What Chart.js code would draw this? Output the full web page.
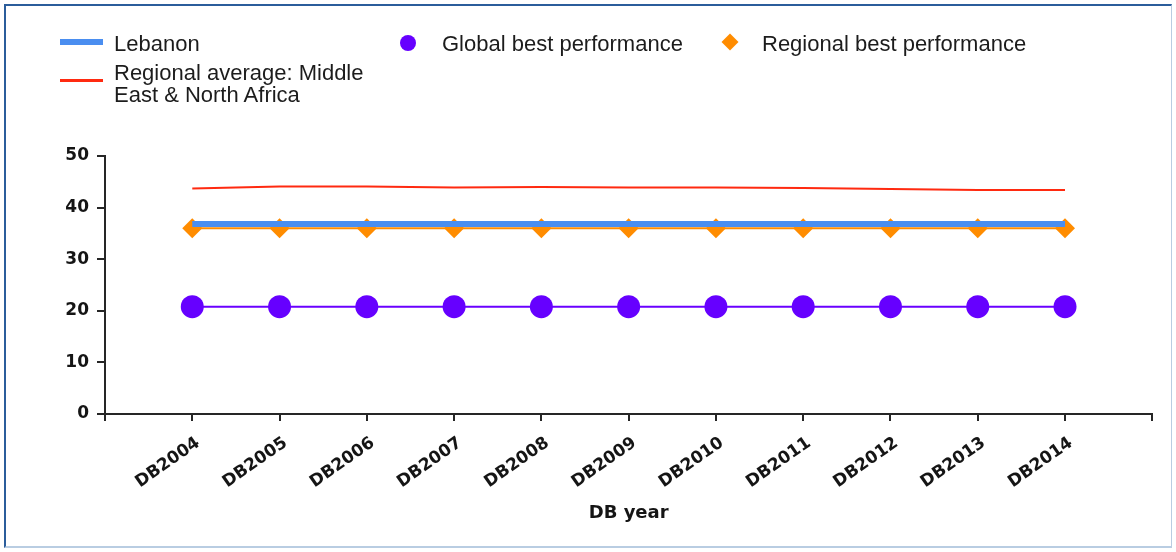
<!DOCTYPE html>
<html>
<head>
<meta charset="utf-8">
<script src="https://cdn.jsdelivr.net/npm/chart.js"></script>
<style>
  body { margin: 0; background: #fff; }
  #wrap { position: relative; width: 1176px; height: 552px; }
  #frame {
    position: absolute; left: 4px; top: 4px; width: 1168px; height: 544px;
    border-left: 2px solid #2b5d9b; border-top: 2px solid #2b5d9b;
    border-right: 1px solid #b9cde2; border-bottom: 2px solid #b9cde2;
    box-sizing: border-box; pointer-events: none;
  }
  .lg-text {
    position: absolute; font-family: "Liberation Sans", Arial, sans-serif;
    font-size: 22px; line-height: 22px; color: #1c1c1c; white-space: nowrap;
  }
  .lg-mark { position: absolute; }
</style>
</head>
<body>
<div id="wrap">
  <canvas id="chart" width="1176" height="552"></canvas>
  <div id="legend"></div>
  <div id="frame"></div>
</div>
<script>
const categories = ["DB2004", "DB2005", "DB2006", "DB2007", "DB2008", "DB2009",
  "DB2010", "DB2011", "DB2012", "DB2013", "DB2014"];
const lebanon = [36.8, 36.8, 36.8, 36.8, 36.8, 36.8, 36.8, 36.8, 36.8, 36.8, 36.8];
const regionalAverage = [43.7, 44.1, 44.1, 43.9, 44.0, 43.9, 43.9, 43.8, 43.6, 43.4, 43.4];
const globalBest = [20.8, 20.8, 20.8, 20.8, 20.8, 20.8, 20.8, 20.8, 20.8, 20.8, 20.8];
const regionalBest = [36, 36, 36, 36, 36, 36, 36, 36, 36, 36, 36];
const yTicks = [0, 10, 20, 30, 40, 50];

// categories sit on 1..11 of a linear axis running 0..12 (empty slot each end)
const toPoints = (vals) => vals.map((v, i) => ({ x: i + 1, y: v }));

const axisColor = "#262626";
const tickFont = { family: "DejaVu Sans", size: 17, weight: "bold" };

new Chart(document.getElementById("chart"), {
  type: "line",
  data: {
    datasets: [
      {
        label: "Regional average: Middle East & North Africa",
        data: toPoints(regionalAverage),
        borderColor: "#ff2a10",
        borderWidth: 2,
        pointRadius: 0,
      },
      {
        label: "Lebanon",
        data: toPoints(lebanon),
        borderColor: "#4a8ef0",
        borderWidth: 6,
        pointRadius: 0,
      },
      {
        label: "Regional best performance",
        data: toPoints(regionalBest),
        borderColor: "#ff8c00",
        borderWidth: 2,
        pointStyle: "rectRot",
        pointRadius: 10,
        pointBackgroundColor: "#ff8c00",
        pointBorderWidth: 0,
      },
      {
        label: "Global best performance",
        data: toPoints(globalBest),
        borderColor: "#6a00ff",
        borderWidth: 2,
        pointStyle: "circle",
        pointRadius: 11.5,
        pointBackgroundColor: "#6600ff",
        pointBorderWidth: 0,
      },
    ],
  },
  options: {
    responsive: false,
    animation: false,
    layout: { padding: { left: 0, top: 156, right: 23, bottom: 0 } },
    plugins: {
      legend: { display: false },
      tooltip: { enabled: false },
    },
    scales: {
      x: {
        type: "linear",
        min: 0,
        max: 12,
        afterFit: (scale) => { scale.height = 138; },
        afterBuildTicks: (scale) => {
          scale.ticks = [];
          for (let i = 0; i <= categories.length + 1; i++) scale.ticks.push({ value: i });
        },
        ticks: {
          autoSkip: false,
          maxRotation: 35,
          minRotation: 35,
          padding: 12,
          labelOffset: 6,
          color: "#151515",
          font: tickFont,
          callback: (v) => categories[v - 1] || "",
        },
        grid: { drawOnChartArea: false, color: axisColor, lineWidth: 2, tickLength: 7 },
        border: { color: axisColor, width: 2 },
        title: {
          display: true,
          text: "DB year",
          color: "#151515",
          font: { family: "DejaVu Sans", size: 18, weight: "bold" },
          padding: { top: 0, bottom: 28 },
        },
      },
      y: {
        min: 0,
        max: 50,
        afterFit: (scale) => { scale.width = 105; },
        afterBuildTicks: (scale) => { scale.ticks = yTicks.map((v) => ({ value: v })); },
        ticks: { padding: 8, color: "#151515", font: tickFont },
        grid: { drawOnChartArea: false, color: axisColor, lineWidth: 2, tickLength: 8 },
        border: { color: axisColor, width: 2 },
      },
    },
  },
});

// legend laid out like the original (three columns, wrapped label)
const legendItems = [
  { text: "Lebanon", left: 114, top: 33, mark: { left: 60, top: 39, width: 43, height: 6, background: "#4a8ef0" } },
  { text: "Regional average: Middle<br>East &amp; North Africa", left: 114, top: 62, mark: { left: 60, top: 79, width: 43, height: 3, background: "#ff2a10" } },
  { text: "Global best performance", left: 442, top: 33, mark: { left: 400, top: 35, width: 16, height: 16, background: "#6600ff", borderRadius: "50%" } },
  { text: "Regional best performance", left: 762, top: 33, mark: { left: 724, top: 36, width: 12, height: 12, background: "#ff8c00", transform: "rotate(45deg)" } },
];
const legendEl = document.getElementById("legend");
legendItems.forEach((item) => {
  const m = document.createElement("div");
  m.className = "lg-mark";
  const s = item.mark;
  m.style.left = s.left + "px";
  m.style.top = s.top + "px";
  m.style.width = s.width + "px";
  m.style.height = s.height + "px";
  m.style.background = s.background;
  if (s.borderRadius) m.style.borderRadius = s.borderRadius;
  if (s.transform) m.style.transform = s.transform;
  legendEl.appendChild(m);
  const t = document.createElement("div");
  t.className = "lg-text";
  t.style.left = item.left + "px";
  t.style.top = item.top + "px";
  t.innerHTML = item.text;
  legendEl.appendChild(t);
});
</script>
</body>
</html>
